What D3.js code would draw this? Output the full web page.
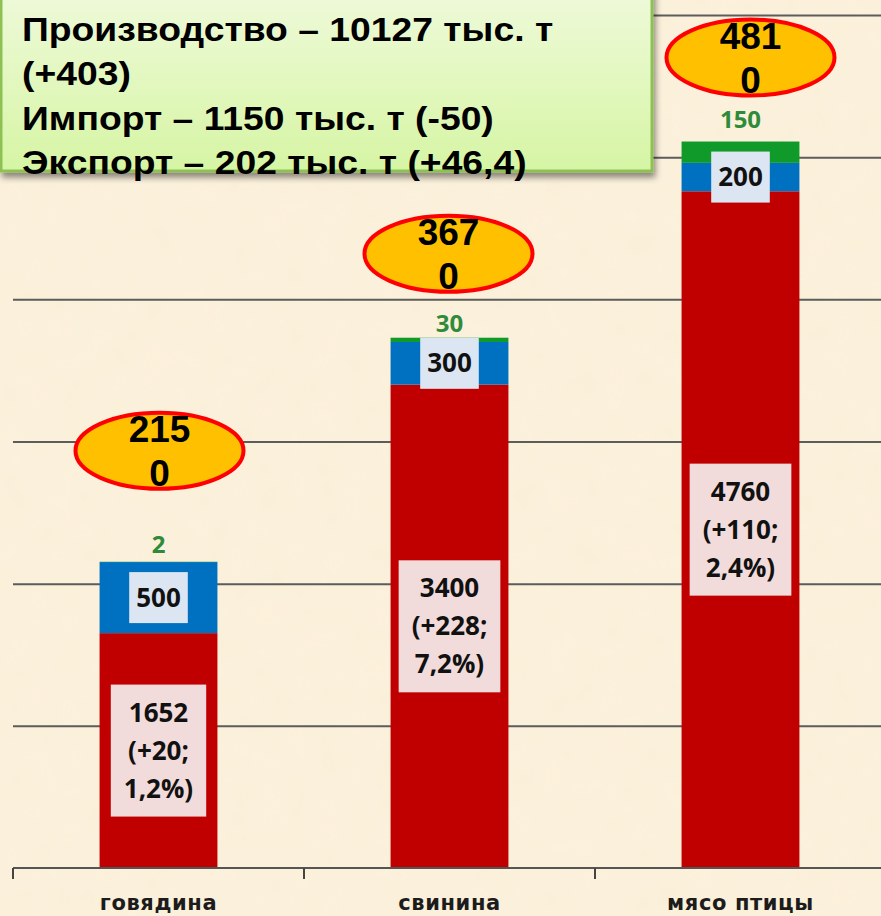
<!DOCTYPE html>
<html>
<head>
<meta charset="utf-8">
<script src="https://cdn.jsdelivr.net/npm/d3@7"></script>
<style>
  body { margin: 0; background: #fcf1dc; }
  svg { display: block; }
</style>
</head>
<body>
<svg width="881" height="916"></svg>
<script>
var categories = ["говядина", "свинина", "мясо птицы"];
var production = [1652, 3400, 4760];
var productionChange = ["+20", "+228", "+110"];
var productionPct = ["1,2%", "7,2%", "2,4%"];
var imports = [500, 300, 200];
var exports = [2, 30, 150];
var consumption = [2150, 3670, 4810];
var gridTicks = [1000, 2000, 3000, 4000, 5000, 6000];
var summaryLines = [
  "Производство – 10127 тыс. т",
  "(+403)",
  "Импорт – 1150 тыс. т (-50)",
  "Экспорт – 202 тыс. т (+46,4)"
];

var rows = categories.map((c, i) => ({
  cat: c, production: production[i], imports: imports[i], exports: exports[i]
}));

var svg = d3.select("svg"),
    width = +svg.attr("width"),
    height = +svg.attr("height");

var defs = svg.append("defs");
var grad = defs.append("linearGradient").attr("id", "boxGrad")
  .attr("x1", 0).attr("y1", 0).attr("x2", 0).attr("y2", 1);
grad.append("stop").attr("offset", "0%").attr("stop-color", "#f0fadd");
grad.append("stop").attr("offset", "100%").attr("stop-color", "#d6f5a4");
var shadow = defs.append("filter").attr("id", "shadow")
  .attr("x", "-10%").attr("y", "-10%").attr("width", "130%").attr("height", "140%");
shadow.append("feDropShadow").attr("dx", 2).attr("dy", 5).attr("stdDeviation", 3)
  .attr("flood-color", "#000").attr("flood-opacity", 0.45);
// faint parchment mottling
var paper = defs.append("filter").attr("id", "paper");
paper.append("feTurbulence").attr("type", "fractalNoise")
  .attr("baseFrequency", 0.035).attr("numOctaves", 2).attr("seed", 3);
paper.append("feColorMatrix").attr("type", "matrix")
  .attr("values", "0 0 0 0 0.85  0 0 0 0 0.75  0 0 0 0 0.55  0 0 0 0.12 0");
paper.append("feComposite").attr("operator", "in").attr("in2", "SourceGraphic");

svg.append("rect").attr("width", width).attr("height", height).attr("fill", "#fcf1dc");
svg.append("rect").attr("width", width).attr("height", height).attr("fill", "#fff")
  .attr("filter", "url(#paper)");

// category sections (tick marks between) and the bars inside them
var xSection = d3.scaleBand().domain(categories).range([13, 886]);
var x = d3.scaleBand().domain(categories).range([13, 886])
  .paddingInner(0.595).paddingOuter(0.2975);

var y = d3.scaleLinear().domain([0, 6000]).range([868, 15]);

svg.append("g")
  .attr("transform", "translate(13,0)")
  .call(d3.axisLeft(y).tickValues(gridTicks).tickSize(-(width - 13)).tickFormat(""))
  .call(g => g.select(".domain").remove())
  .call(g => g.selectAll("line").attr("stroke", "#5c5c5c").attr("stroke-width", 2));

var stack = d3.stack().keys(["production", "imports", "exports"]);
var series = stack(rows);
var colors = { production: "#c00000", imports: "#0070c0", exports: "#109a2a" };

svg.append("g")
  .selectAll("g")
  .data(series)
  .enter().append("g")
  .attr("fill", d => colors[d.key])
  .selectAll("rect")
  .data(d => d)
  .enter().append("rect")
  .attr("x", d => x(d.data.cat))
  .attr("width", x.bandwidth())
  .attr("y", d => y(d[1]))
  .attr("height", d => y(d[0]) - y(d[1]));

// x axis with ticks between categories
var axis = svg.append("g");
axis.append("line")
  .attr("x1", 13).attr("x2", width)
  .attr("y1", y(0)).attr("y2", y(0))
  .attr("stroke", "#555").attr("stroke-width", 2);
axis.selectAll(".tick")
  .data(categories.map(c => xSection(c)).concat([xSection.range()[1]]))
  .enter().append("line")
  .attr("x1", d => d).attr("x2", d => d)
  .attr("y1", y(0)).attr("y2", y(0) + 11)
  .attr("stroke", "#444").attr("stroke-width", 2);
axis.selectAll("text")
  .data(categories)
  .enter().append("text")
  .attr("x", d => x(d) + x.bandwidth() / 2)
  .attr("y", 910)
  .attr("text-anchor", "middle")
  .attr("font-family", "DejaVu Sans")
  .attr("font-weight", "bold")
  .attr("font-size", 21)
  .attr("letter-spacing", 0.6)
  .attr("fill", "#1c1c1c")
  .text(d => d);

var labelFont = "'Open Sans'";

function boxedLabel(g, lines, cx, cy, fill, padX, padY, lineH) {
  var t = g.append("text")
    .attr("text-anchor", "middle")
    .attr("font-family", labelFont)
    .attr("font-weight", 700)
    .attr("font-size", 26)
    .attr("fill", "#111");
  var top = cy - lineH * lines.length / 2;
  lines.forEach((l, i) => {
    t.append("tspan").attr("x", cx).attr("y", top + lineH * i + lineH / 2 + 9).text(l);
  });
  var w = d3.max(t.selectAll("tspan").nodes(), n => n.getComputedTextLength());
  g.insert("rect", "text")
    .attr("x", cx - w / 2 - padX)
    .attr("width", w + padX * 2)
    .attr("y", top - padY)
    .attr("height", lineH * lines.length + padY * 2)
    .attr("fill", fill);
}

var exportLift = [9, 6, 14];
var labels = svg.append("g");
rows.forEach((r, i) => {
  var cx = x(r.cat) + x.bandwidth() / 2;
  var g = labels.append("g");
  boxedLabel(g, [String(r.production), "(" + productionChange[i] + ";", productionPct[i] + ")"],
    cx, (y(0) + y(r.production)) / 2, "#f2dcdb", 13, 9, 38);
  var g2 = labels.append("g");
  boxedLabel(g2, [String(r.imports)], cx,
    (y(r.production) + y(r.production + r.imports)) / 2, "#dce6f2", 7, 6.5, 38);
  labels.append("text")
    .attr("x", cx)
    .attr("y", y(r.production + r.imports + r.exports) - exportLift[i])
    .attr("text-anchor", "middle")
    .attr("font-family", labelFont)
    .attr("font-weight", 700)
    .attr("font-size", 24)
    .attr("fill", "#2e8b3a")
    .text(r.exports);
});

// consumption ellipses
var ellipseLift = [111, 84, 84];
var ellipseShift = [1, -1, 10];
var ell = svg.append("g").selectAll("g")
  .data(rows)
  .enter().append("g")
  .attr("transform", (d, i) => "translate(" +
    (x(d.cat) + x.bandwidth() / 2 + ellipseShift[i]) + "," +
    (y(d.production + d.imports + d.exports) - ellipseLift[i]) + ")");
ell.append("ellipse")
  .attr("rx", 84).attr("ry", 38)
  .attr("fill", "#ffc000")
  .attr("stroke", "#ff0000")
  .attr("stroke-width", 4);
var et = ell.append("text")
  .attr("text-anchor", "middle")
  .attr("font-family", "'Liberation Sans', Arial")
  .attr("font-weight", "bold")
  .attr("font-size", 37)
  .attr("fill", "#000");
et.append("tspan").attr("x", 0).attr("y", -9).text((d, i) => String(consumption[i]).slice(0, 3));
et.append("tspan").attr("x", 0).attr("y", 35).text((d, i) => String(consumption[i]).slice(3));

// summary box
var box = svg.append("g");
box.append("rect")
  .attr("x", 1).attr("y", -20)
  .attr("width", 651).attr("height", 191)
  .attr("fill", "url(#boxGrad)")
  .attr("stroke", "#8dc152")
  .attr("stroke-width", 3)
  .attr("filter", "url(#shadow)");
box.append("g")
  .attr("transform", "translate(22,0) scale(1.13,1)")
  .selectAll("text")
  .data(summaryLines)
  .enter().append("text")
  .attr("x", 0)
  .attr("y", (d, i) => 41 + i * 44.5)
  .attr("font-family", "'Liberation Sans', Arial")
  .attr("font-weight", "bold")
  .attr("font-size", 33)
  .attr("fill", "#000")
  .text(d => d);
</script>
</body>
</html>
